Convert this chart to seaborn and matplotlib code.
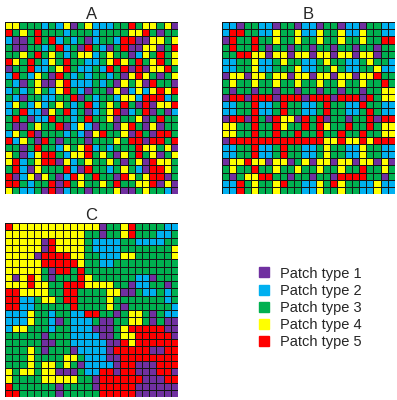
import numpy as np
import pandas as pd
import matplotlib
matplotlib.use("Agg")
import matplotlib.pyplot as plt
from matplotlib.colors import ListedColormap
from matplotlib.lines import Line2D
import seaborn as sns

# Patch types: P=1 purple, C=2 cyan, G=3 green, Y=4 yellow, R=5 red
patch_labels = ["Patch type 1", "Patch type 2", "Patch type 3", "Patch type 4", "Patch type 5"]
patch_codes = ["P", "C", "G", "Y", "R"]
patch_colors = ["#7030A0", "#00B0F0", "#00B050", "#FFFF00", "#FF0000"]
panel_titles = ["A", "B", "C"]

grid_A = [
    "YYGGGCGCYPGYCCCGGRGYYGYP",
    "RGYGRGGGCGGGCGGGGYYRGPGG",
    "CPPGRGRCGCGPCGGCRRPPYYGY",
    "GPPGGCGRCGPRGCPGRPPYYPGR",
    "GGYGRGYGCGYYCGYGGPCYGRGY",
    "RYGRGCYGRGGCCGYRYGRGYRGY",
    "PGGRCCGYRGCCGCRGRPRPYYRG",
    "CRGCYGPRGCGCGGCGPYRYGPGY",
    "GCPGYPPYRCCCGCGPYGYPRGGP",
    "CGCGYGCYRGCPGGPYPCYCYRYR",
    "GCPGGCCGGRPGCGGCYYCRRRCG",
    "CYGCYCGYGCGRCGYGRGPRPYYR",
    "CGRCCPYGRCGPCGYRPCGRPGPC",
    "GRGPCCRGGCGRGGYPGGYPGRGG",
    "GPPGYGGRPCYCPGGPYRGPYPGG",
    "CYGRPGGGCGCPYRGGYPRGPRRG",
    "RCYGPRGPGGGPGGGYGRRPRRGR",
    "GGPGRGGCYGYRCGCGGGRYYGYP",
    "YGPCYRRGCYYRGYGPYGRGYPGY",
    "YRCGYRRPYCGYGGYGPGYPRYYG",
    "GRCPYGGGRCPRGGCGYGCPRRYG",
    "RPCYPYGPCRYGRGGPRYGYRRPG",
    "RRGCGGRPRGYGGYGRGGYYRPYP",
    "YGCCGPRPCGGPGGGYPPGYGGCP",
]

grid_B = [
    "CCPGGCCPGGPCCPGGPCCPGGCC",
    "CRRGGCCYGGYCCYGGYCCYGGCC",
    "PRGGRGGYGGYGGYGGYGGYGGRR",
    "GRGGRGPGGPGGPGGPGGPGGPGG",
    "GGRRYYPYYPYYPYYPYYPYYPGG",
    "CCGGYCCGYGGCCGYGGCCGYGGC",
    "CCGGYCCGGGYCCGGYGCCGGYCC",
    "PYYPYYGYYPYYPYYPYYPYYRGG",
    "GYGGYGGYGGYGGYGGYGGYGGRG",
    "GPGGPGGPGGPGGPGGPGGPGGYY",
    "PRRPRRRPRRRPRRRPRRRPRGYY",
    "CCGGRCCGRGGCCGRGGCCRGGCC",
    "CCGGRCCGRGGCCGRGGCCGRGCC",
    "PRRPRGPRYYPRGRPGGPGGRPRR",
    "YYGGRGGRYGGRGRYGGRGGRGYY",
    "YYGGRGGRGGRGGRGGRGGRGGYY",
    "PRRRRRRRRRRRRRYYRYYRYRRR",
    "CCGGRCCGRGGCCGYGGCCYGGCC",
    "CCGGRCCGRGGCCGYGGCCYGGCC",
    "PYYRYYPYYPGYPYYPYYPYYPYP",
    "GYGGRGGYGGYGGYGGYGGRGGYG",
    "GPGYYRRGGPGGPGGPRRRRGGPG",
    "CCRGYGGYRGGCCYGRYGGCCYCC",
    "CCRGYGGYGGGCCYGGYGGCCYCC",
]

grid_C = [
    "RYYYYYYYYYYYYPGGYRGGGGCC",
    "YYYYYYYYYYYGGPGGYRGGGCCG",
    "YYYYYPRYYYYGCCCCGGCCCCGG",
    "YYYYYPRYYYYGCCCCGGGGGGGY",
    "YYYYPRRRRYYGGCCCYYGGGGGY",
    "YYYYYRRRRRYGGCCGGGGGGGGG",
    "YYYYYGPRRGRGGGGGGGGGGGGG",
    "YPYRYGPGGGRYGGGGGGCCPGGG",
    "YYYRYYGGRRRYYYYGGPCCGGPG",
    "RRYYYYGGRRGGGGYYPPGCCGCG",
    "RRCCGYYGRRGGGGYGGGGGGGCG",
    "RRCCGGGGGRGGGGYGPGGGGGGC",
    "CCCYGGCGGCCRRGGPGYYGPGCC",
    "CCCYGGCPGCCCGPPGGYYGPGPP",
    "CYYGGGCGGCCCPPPGYRRRRRPP",
    "GGGGGPGGGCCCCPPGYYRRRRRP",
    "GGGGGPPGGCCCCCPPRYRRRRRR",
    "GGGYGPGGGPCCCCPRRRRRPPRR",
    "GGGYGGGGYYGCCCPPRRRRRRRR",
    "GGGYGYYGYGPCCCCPRRPPPRRR",
    "YGYYGYYPPPGCCRRPRRPPPRRP",
    "YGGGGYYYYYGGPRRRRRRPPPRR",
    "RGGGGGGPGGGGPRRRRRPPPPPP",
    "RRGGGGGPGGGGGRRRRRPPPPPP",
]


def to_frame(rows):
    lookup = {k: i + 1 for i, k in enumerate(patch_codes)}
    return pd.DataFrame([[lookup[ch] for ch in r] for r in rows])


sns.set_theme(style="white")
plt.rcParams["font.family"] = ["Liberation Sans", "DejaVu Sans"]

fig = plt.figure(figsize=(3.97, 4.0), dpi=100)
W, H = 397.0, 400.0
boxes = [(5, 22, 173, 172), (222, 22, 173, 172), (5, 223, 173, 174)]
cmap = ListedColormap(patch_colors)

for grid, title, (x0, y0, w, h) in zip([grid_A, grid_B, grid_C], panel_titles, boxes):
    ax = fig.add_axes([x0 / W, 1 - (y0 + h) / H, w / W, h / H])
    sns.heatmap(to_frame(grid), ax=ax, cmap=cmap, vmin=0.5, vmax=5.5,
                cbar=False, linewidths=0.45, linecolor="#151515",
                xticklabels=False, yticklabels=False, square=False)
    ax.set_title(title, fontsize=12, pad=2)

handles = [Line2D([0], [0], marker="s", linestyle="none", markersize=7,
                  markerfacecolor=c, markeredgecolor=c) for c in patch_colors]
fig.legend(handles, patch_labels, loc="center left",
           bbox_to_anchor=(249 / W, 1 - 308 / H), frameon=False,
           fontsize=10.5, handlelength=1.0, handletextpad=0.6,
           labelspacing=0.22, borderpad=0)

fig.savefig("out.png", dpi=100)
